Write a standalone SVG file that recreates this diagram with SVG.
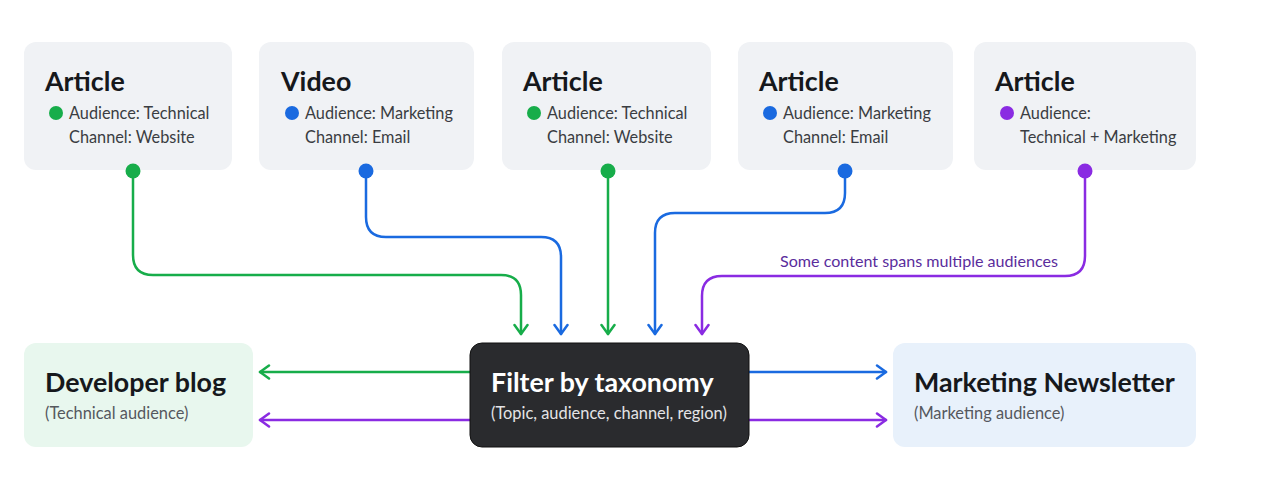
<svg xmlns="http://www.w3.org/2000/svg" width="1263" height="502" viewBox="0 0 1263 502">
<defs>
<style>
.card{fill:#f0f2f5}
.t{font-family:Lato,"Noto Sans",sans-serif;font-weight:700;font-size:26.8px;fill:#16181c}
.b{font-family:Lato,"Noto Sans",sans-serif;font-size:16.3px;fill:#3a3d42}
.s{font-family:Lato,"Noto Sans",sans-serif;font-size:16.4px;fill:#55585e}
.ln{fill:none;stroke-width:2.5;stroke-linecap:round;stroke-linejoin:round}
.g{stroke:#17ad4a}.bl{stroke:#1a6ae0}.p{stroke:#8a2be2}
</style>
<marker id="ag" viewBox="0 0 14 16" refX="12" refY="8" markerWidth="14" markerHeight="16" markerUnits="userSpaceOnUse" orient="auto"><path d="M3,1.5 L12,8 L3,14.5" fill="none" stroke="#17ad4a" stroke-width="2.5" stroke-linecap="round" stroke-linejoin="round"/></marker>
<marker id="ab" viewBox="0 0 14 16" refX="12" refY="8" markerWidth="14" markerHeight="16" markerUnits="userSpaceOnUse" orient="auto"><path d="M3,1.5 L12,8 L3,14.5" fill="none" stroke="#1a6ae0" stroke-width="2.5" stroke-linecap="round" stroke-linejoin="round"/></marker>
<marker id="ap" viewBox="0 0 14 16" refX="12" refY="8" markerWidth="14" markerHeight="16" markerUnits="userSpaceOnUse" orient="auto"><path d="M3,1.5 L12,8 L3,14.5" fill="none" stroke="#8a2be2" stroke-width="2.5" stroke-linecap="round" stroke-linejoin="round"/></marker>
</defs>
<rect width="1263" height="502" fill="#ffffff"/>

<g id="connectors">
<path class="ln g" d="M133,171 V255 Q133,275 153,275 H501 Q521,275 521,295 V334" marker-end="url(#ag)"/>
<path class="ln bl" d="M366,171 V217 Q366,237 386,237 H541 Q561,237 561,257 V334" marker-end="url(#ab)"/>
<path class="ln g" d="M608,171 V334" marker-end="url(#ag)"/>
<path class="ln bl" d="M845,171 V193 Q845,213 825,213 H675 Q655,213 655,233 V334" marker-end="url(#ab)"/>
<path class="ln p" d="M1085,171 V256 Q1085,276 1065,276 H722 Q702,276 702,296 V334" marker-end="url(#ap)"/>
<text x="919" y="267" text-anchor="middle" style="font-family:Lato,'Noto Sans',sans-serif;font-size:16.1px;fill:#5a2d9c">Some content spans multiple audiences</text>
<path class="ln g" d="M470,372 H260" marker-end="url(#ag)"/>
<path class="ln p" d="M470,420 H260" marker-end="url(#ap)"/>
<path class="ln bl" d="M749,372 H886" marker-end="url(#ab)"/>
<path class="ln p" d="M749,420 H886" marker-end="url(#ap)"/>
</g>

<g id="card1">
<rect class="card" x="24" y="42" width="208" height="128" rx="12"/>
<text class="t" x="45" y="91">Article</text>
<circle cx="56" cy="113" r="7" fill="#17ad4a"/>
<text class="b" x="69" y="119">Audience: Technical</text>
<text class="b" x="69" y="143">Channel: Website</text>
<circle cx="133" cy="171" r="7.5" fill="#17ad4a"/>
</g>
<g id="card2">
<rect class="card" x="259" y="42" width="215" height="128" rx="12"/>
<text class="t" x="281" y="91">Video</text>
<circle cx="292" cy="113" r="7" fill="#1a6ae0"/>
<text class="b" x="305" y="119">Audience: Marketing</text>
<text class="b" x="305" y="143">Channel: Email</text>
<circle cx="366" cy="171" r="7.5" fill="#1a6ae0"/>
</g>
<g id="card3">
<rect class="card" x="502" y="42" width="209" height="128" rx="12"/>
<text class="t" x="523" y="91">Article</text>
<circle cx="534" cy="113" r="7" fill="#17ad4a"/>
<text class="b" x="547" y="119">Audience: Technical</text>
<text class="b" x="547" y="143">Channel: Website</text>
<circle cx="608" cy="171" r="7.5" fill="#17ad4a"/>
</g>
<g id="card4">
<rect class="card" x="738" y="42" width="215" height="128" rx="12"/>
<text class="t" x="759" y="91">Article</text>
<circle cx="770" cy="113" r="7" fill="#1a6ae0"/>
<text class="b" x="783" y="119">Audience: Marketing</text>
<text class="b" x="783" y="143">Channel: Email</text>
<circle cx="845" cy="171" r="7.5" fill="#1a6ae0"/>
</g>
<g id="card5">
<rect class="card" x="974" y="42" width="222" height="128" rx="12"/>
<text class="t" x="995" y="91">Article</text>
<circle cx="1007" cy="113" r="7" fill="#8a2be2"/>
<text class="b" x="1020" y="119">Audience:</text>
<text class="b" x="1020" y="143">Technical + Marketing</text>
<circle cx="1085" cy="171" r="7.5" fill="#8a2be2"/>
</g>

<g id="devblog">
<rect x="24" y="343" width="229" height="104" rx="12" fill="#e8f7ee"/>
<text class="t" x="45" y="392">Developer blog</text>
<text class="s" x="45" y="419">(Technical audience)</text>
</g>
<g id="filter">
<rect x="470" y="343" width="279" height="104" rx="12" fill="#2a2b2e" stroke="#111" stroke-width="1"/>
<text class="t" x="491" y="392" style="fill:#ffffff">Filter by taxonomy</text>
<text class="s" x="491" y="419" style="fill:#e4e4e6">(Topic, audience, channel, region)</text>
</g>
<g id="newsletter">
<rect x="893" y="343" width="303" height="104" rx="12" fill="#e8f1fb"/>
<text class="t" x="914" y="392">Marketing Newsletter</text>
<text class="s" x="914" y="419">(Marketing audience)</text>
</g>
</svg>
